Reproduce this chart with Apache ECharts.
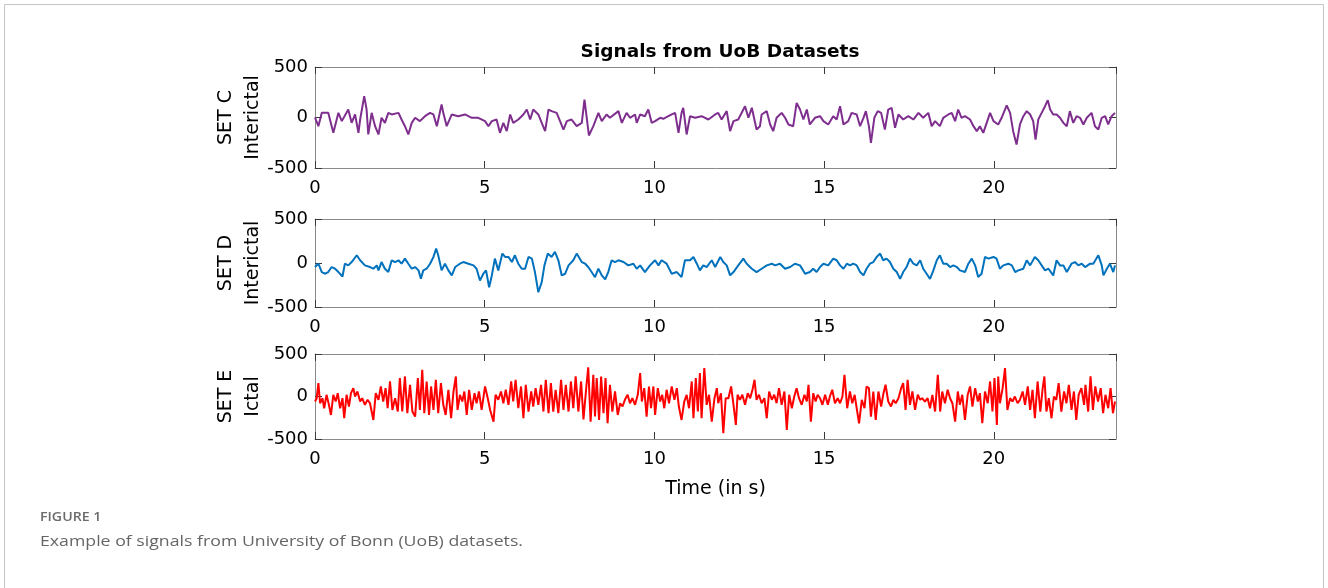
<!DOCTYPE html>
<html>
<head>
<meta charset="utf-8">
<script src="https://cdn.jsdelivr.net/npm/echarts@6/dist/echarts.min.js"></script>
<style>
  html, body { margin: 0; padding: 0; background: #fff; }
  #chart { width: 1328px; height: 588px; }
</style>
</head>
<body>
<div id="chart"></div>
<script>
// Axis ticks (seconds / microvolts)
const timeTicks = [0, 5, 10, 15, 20];
const timeMax = 23.6;
const ampTicks = [-500, 0, 500];

// Panel labels
const panelNames = ['SET C\nInterictal', 'SET D\nInterictal', 'SET E\nIctal'];

// EEG traces as [time (s), amplitude] pairs
const setC = [[0,0],[0.10,-86],[0.20,46],[0.39,46],[0.54,-152],[0.69,46],[0.79,-36],[0.98,79],[1.08,-53],[1.18,30],[1.28,-152],[1.33,-20],[1.45,211],[1.52,79],[1.57,-168],[1.67,46],[1.77,-86],[1.87,-168],[1.96,-3],[2.06,-53],[2.16,46],[2.26,30],[2.46,46],[2.55,-20],[2.65,-86],[2.75,-168],[2.85,-53],[2.95,-3],[3.09,-36],[3.24,13],[3.39,46],[3.49,30],[3.59,-86],[3.73,129],[3.78,46],[3.88,-86],[4.03,30],[4.22,13],[4.42,30],[4.62,-3],[4.81,-3],[5.01,-36],[5.11,-86],[5.21,-36],[5.35,-20],[5.45,-152],[5.55,-53],[5.65,-135],[5.75,30],[5.84,-53],[5.99,-20],[6.14,30],[6.24,79],[6.34,-20],[6.43,79],[6.58,30],[6.68,-53],[6.78,-135],[6.88,79],[6.97,63],[7.12,46],[7.22,-36],[7.32,-119],[7.42,-36],[7.56,-20],[7.71,-86],[7.86,-53],[7.94,178],[8.07,-178],[8.20,-86],[8.35,46],[8.45,-36],[8.59,30],[8.69,-3],[8.94,63],[9.04,-53],[9.18,46],[9.28,-3],[9.43,30],[9.48,-53],[9.58,30],[9.72,13],[9.82,79],[9.92,-53],[10.02,-36],[10.17,-3],[10.26,-13],[10.41,13],[10.51,30],[10.61,46],[10.71,-152],[10.80,46],[10.85,96],[10.95,-168],[11.05,13],[11.20,-3],[11.39,13],[11.59,-20],[11.79,30],[11.88,46],[11.98,-20],[12.13,63],[12.23,-135],[12.33,-36],[12.47,-20],[12.67,112],[12.77,-3],[12.87,96],[13.01,-119],[13.11,-86],[13.16,30],[13.31,63],[13.41,-69],[13.50,-135],[13.60,-3],[13.75,46],[13.85,-3],[13.95,-69],[14.09,-86],[14.19,145],[14.29,79],[14.39,-20],[14.49,79],[14.58,-69],[14.73,-3],[14.88,13],[14.98,-36],[15.12,-69],[15.27,13],[15.37,-20],[15.47,112],[15.57,-69],[15.71,-36],[15.81,46],[15.96,30],[16.06,-86],[16.16,-3],[16.23,63],[16.32,-86],[16.38,-251],[16.48,-3],[16.58,63],[16.68,46],[16.79,-119],[16.89,79],[16.99,96],[17.09,-102],[17.19,30],[17.33,-20],[17.48,13],[17.63,-20],[17.78,46],[17.92,-3],[18.07,46],[18.17,-86],[18.27,-36],[18.41,-86],[18.51,-3],[18.66,30],[18.76,46],[18.86,-36],[18.95,79],[19.05,-3],[19.15,13],[19.30,-20],[19.40,-86],[19.50,-135],[19.59,-86],[19.69,-152],[19.79,-53],[19.89,46],[19.99,-36],[20.13,-69],[20.23,-3],[20.38,119],[20.48,46],[20.57,-135],[20.67,-267],[20.77,-69],[20.87,13],[20.97,63],[21.07,30],[21.16,-36],[21.23,-218],[21.31,-20],[21.41,46],[21.51,112],[21.59,172],[21.66,79],[21.75,30],[21.85,30],[21.95,-3],[22.05,-53],[22.15,-86],[22.24,63],[22.34,-53],[22.44,13],[22.54,-3],[22.64,-69],[22.74,-3],[22.88,46],[22.98,-86],[23.08,-119],[23.18,-3],[23.28,13],[23.37,-69],[23.47,13],[23.57,46]];

const setD = [[0,-46],[0.10,-8],[0.20,-103],[0.29,-122],[0.39,-103],[0.49,-46],[0.59,-65],[0.69,-103],[0.81,-153],[0.88,-8],[0.98,-27],[1.08,11],[1.23,88],[1.33,31],[1.47,-27],[1.62,-46],[1.72,-65],[1.82,-27],[1.87,-84],[1.96,11],[2.06,-65],[2.16,-103],[2.26,31],[2.36,11],[2.46,31],[2.55,-8],[2.65,50],[2.75,-8],[2.85,-65],[2.95,-46],[3.05,-84],[3.12,-180],[3.19,-84],[3.29,-65],[3.39,-8],[3.49,69],[3.57,164],[3.63,88],[3.73,-84],[3.83,-8],[3.93,-84],[4.03,-141],[4.13,-46],[4.27,-8],[4.37,11],[4.52,-8],[4.67,-27],[4.76,-65],[4.86,-199],[4.96,-122],[5.04,-84],[5.13,-275],[5.21,-141],[5.30,50],[5.40,-84],[5.52,107],[5.60,69],[5.70,69],[5.80,11],[5.89,88],[5.99,-8],[6.09,-65],[6.19,-65],[6.29,69],[6.39,50],[6.48,-103],[6.58,-332],[6.68,-218],[6.76,-27],[6.86,107],[6.97,69],[7.07,126],[7.17,31],[7.27,-141],[7.37,-122],[7.47,-27],[7.61,31],[7.71,107],[7.86,11],[7.96,-8],[8.05,-46],[8.15,-103],[8.25,-160],[8.35,-65],[8.45,-141],[8.55,-187],[8.64,-103],[8.74,31],[8.84,11],[8.94,31],[9.09,11],[9.23,-27],[9.38,-8],[9.48,-65],[9.58,-27],[9.72,-103],[9.87,-27],[10.02,31],[10.12,-27],[10.21,31],[10.36,-8],[10.51,-122],[10.66,-103],[10.80,-160],[10.90,31],[11.05,31],[11.15,69],[11.25,-8],[11.34,-84],[11.44,-27],[11.54,-46],[11.69,31],[11.79,-46],[11.94,69],[12.03,11],[12.13,-27],[12.23,-141],[12.33,-103],[12.47,-27],[12.62,50],[12.72,-8],[12.87,-65],[13.01,-103],[13.16,-65],[13.31,-27],[13.46,-8],[13.55,-27],[13.70,-8],[13.85,-65],[14.00,-46],[14.14,-8],[14.29,-27],[14.44,-122],[14.58,-103],[14.68,-65],[14.78,-103],[14.88,-46],[14.98,-8],[15.12,-27],[15.27,50],[15.37,31],[15.47,-27],[15.57,-65],[15.67,-8],[15.76,-27],[15.86,-8],[15.96,-27],[16.06,-103],[16.16,-141],[16.25,-65],[16.35,-8],[16.45,11],[16.55,69],[16.65,107],[16.74,31],[16.84,50],[16.94,11],[17.04,-65],[17.14,-103],[17.24,-180],[17.33,-103],[17.43,-46],[17.53,50],[17.63,-8],[17.73,-27],[17.83,31],[17.92,-65],[18.02,-122],[18.12,-180],[18.22,-84],[18.32,31],[18.41,88],[18.51,-8],[18.61,-8],[18.71,-46],[18.81,-27],[18.91,-46],[19.00,-84],[19.15,-103],[19.25,-8],[19.35,50],[19.45,-27],[19.54,-160],[19.64,-122],[19.74,69],[19.84,50],[19.99,69],[20.08,50],[20.18,-65],[20.28,-27],[20.43,-8],[20.53,-27],[20.63,-103],[20.72,-84],[20.87,-65],[20.97,31],[21.07,-27],[21.21,69],[21.31,31],[21.41,-27],[21.51,-84],[21.61,-65],[21.75,-141],[21.85,31],[21.95,-27],[22.05,-27],[22.15,-103],[22.29,-8],[22.39,11],[22.49,-27],[22.59,-8],[22.69,-46],[22.84,-8],[22.93,-8],[23.08,88],[23.18,-27],[23.23,-141],[23.33,-65],[23.42,-8],[23.52,-103],[23.57,-27]];

const setE = [[0,-59],[0.05,-20],[0.10,158],[0.15,-79],[0.22,-20],[0.27,-138],[0.34,20],[0.41,-98],[0.47,-217],[0.54,20],[0.61,-59],[0.67,39],[0.74,-138],[0.81,-20],[0.86,-256],[0.93,20],[1.00,-118],[1.06,39],[1.13,98],[1.18,0],[1.25,59],[1.33,-59],[1.39,-20],[1.47,-98],[1.55,-39],[1.62,-79],[1.72,-276],[1.79,39],[1.87,-39],[1.94,118],[2.01,-59],[2.08,98],[2.14,-138],[2.21,177],[2.28,-158],[2.36,-20],[2.44,-177],[2.50,217],[2.57,-177],[2.65,236],[2.72,-197],[2.80,138],[2.87,-177],[2.95,-236],[3.03,217],[3.09,-158],[3.16,315],[3.22,-197],[3.29,177],[3.36,-217],[3.42,118],[3.49,-158],[3.56,197],[3.63,-197],[3.71,158],[3.78,-98],[3.85,-217],[3.93,79],[4.01,-256],[4.08,59],[4.15,236],[4.20,-158],[4.27,20],[4.34,-59],[4.40,59],[4.47,-217],[4.54,79],[4.62,-158],[4.70,39],[4.76,-79],[4.83,59],[4.91,-158],[5.01,118],[5.09,-20],[5.16,-158],[5.26,-296],[5.32,20],[5.40,-39],[5.48,59],[5.55,-79],[5.62,79],[5.70,-98],[5.78,177],[5.84,-59],[5.91,197],[5.99,-138],[6.07,118],[6.14,-256],[6.21,138],[6.29,-177],[6.37,59],[6.43,-118],[6.50,98],[6.58,-98],[6.66,138],[6.73,-177],[6.80,197],[6.88,-197],[6.95,158],[7.02,-177],[7.09,79],[7.17,-197],[7.25,197],[7.32,-158],[7.39,138],[7.47,-177],[7.54,177],[7.61,-138],[7.68,236],[7.76,-177],[7.84,177],[7.91,-270],[8.00,138],[8.05,343],[8.12,-296],[8.20,256],[8.25,-236],[8.30,217],[8.37,-276],[8.43,236],[8.50,-197],[8.56,217],[8.62,-315],[8.69,138],[8.76,-177],[8.84,59],[8.92,-217],[8.99,-79],[9.06,-118],[9.13,-39],[9.21,20],[9.28,-79],[9.35,-20],[9.43,-98],[9.51,20],[9.58,276],[9.63,-59],[9.70,98],[9.77,-236],[9.84,118],[9.90,-138],[9.97,118],[10.02,-217],[10.10,98],[10.17,-59],[10.23,20],[10.29,-138],[10.36,79],[10.43,-79],[10.51,118],[10.59,-39],[10.66,98],[10.72,-118],[10.80,-276],[10.88,-59],[10.95,20],[11.02,-138],[11.10,177],[11.15,-256],[11.22,217],[11.28,-177],[11.34,276],[11.39,-256],[11.47,335],[11.54,-98],[11.61,20],[11.69,-296],[11.77,-20],[11.84,98],[11.88,-79],[11.96,39],[12.03,-433],[12.10,-20],[12.18,-20],[12.26,118],[12.33,-98],[12.40,-335],[12.45,20],[12.52,-39],[12.59,20],[12.67,-98],[12.75,39],[12.82,-20],[12.89,79],[12.95,197],[13.01,-39],[13.08,20],[13.16,-79],[13.24,-20],[13.31,-256],[13.38,59],[13.46,-39],[13.53,20],[13.60,-79],[13.67,98],[13.75,-98],[13.83,59],[13.90,-394],[13.97,20],[14.05,-138],[14.12,0],[14.19,98],[14.26,-20],[14.34,-98],[14.42,20],[14.49,-59],[14.54,138],[14.61,-296],[14.68,39],[14.75,-59],[14.81,20],[14.88,-20],[14.95,-98],[15.03,20],[15.11,-98],[15.17,0],[15.24,79],[15.32,-79],[15.40,-20],[15.47,-79],[15.54,0],[15.60,256],[15.68,-138],[15.76,59],[15.83,-79],[15.90,20],[15.96,-138],[16.03,-315],[16.11,-39],[16.19,-138],[16.25,118],[16.32,98],[16.38,-236],[16.45,59],[16.52,-276],[16.60,59],[16.68,-118],[16.75,39],[16.81,138],[16.89,-59],[16.97,-118],[17.04,-39],[17.11,-79],[17.19,-20],[17.27,98],[17.33,158],[17.40,-158],[17.46,197],[17.53,-98],[17.60,59],[17.68,-158],[17.76,20],[17.83,-39],[17.89,-20],[17.97,-59],[18.05,-20],[18.12,-138],[18.19,20],[18.27,-177],[18.35,256],[18.42,-177],[18.48,59],[18.56,-79],[18.64,79],[18.71,-20],[18.78,-79],[18.86,-296],[18.94,59],[19.00,-98],[19.07,20],[19.15,-276],[19.23,20],[19.30,118],[19.37,-118],[19.45,98],[19.53,-59],[19.59,39],[19.66,-315],[19.74,59],[19.82,-79],[19.89,177],[19.96,-177],[20.02,217],[20.09,-335],[20.13,236],[20.18,-79],[20.26,98],[20.33,335],[20.40,-158],[20.48,-20],[20.55,-59],[20.62,0],[20.70,-79],[20.77,-39],[20.85,59],[20.92,-98],[21.00,118],[21.07,-158],[21.14,79],[21.21,-256],[21.29,177],[21.37,-177],[21.44,98],[21.49,236],[21.55,-177],[21.62,-20],[21.70,-256],[21.77,0],[21.84,-39],[21.91,158],[21.99,-177],[22.07,59],[22.14,-79],[22.21,138],[22.29,-158],[22.36,59],[22.43,-276],[22.50,20],[22.58,98],[22.66,-98],[22.70,138],[22.78,-177],[22.85,236],[22.92,-158],[22.99,118],[23.07,-59],[23.15,98],[23.22,-197],[23.29,20],[23.37,-138],[23.44,98],[23.51,-197],[23.57,-59]];

const traces = [setC, setD, setE];
const traceColors = ['#7E2F8E', '#0072BD', '#FF0000'];

// Layout of the three stacked panels
const panelBoxes = [
  { top: 67, height: 101 },
  { top: 219, height: 88 },
  { top: 354, height: 85 }
];
const plotLeft = 315, plotRight = 212;
const panelNameX = 240;

const font = 'DejaVu Sans';
const frameColor = '#8a8a8a';
const tickColor = '#3a3a3a';

const grids = [], xAxes = [], yAxes = [], series = [], panelLabels = [];
panelBoxes.forEach((box, i) => {
  grids.push({ left: plotLeft, right: plotRight, top: box.top, height: box.height, containLabel: false });
  const tInterval = timeTicks[1] - timeTicks[0];
  const aInterval = ampTicks[1] - ampTicks[0];
  const common = {
    gridIndex: i, type: 'value',
    axisLine: { show: true, onZero: false, lineStyle: { color: frameColor, width: 1 } },
    splitLine: { show: false }
  };
  // bottom time axis (labelled)
  xAxes.push(Object.assign({}, common, {
    position: 'bottom', min: timeTicks[0], max: timeMax, interval: tInterval,
    axisTick: { inside: true, length: 7, lineStyle: { color: tickColor } },
    axisLabel: { show: true, margin: 11, color: '#000', fontFamily: font, fontSize: 18, showMaxLabel: false },
    name: i === panelBoxes.length - 1 ? 'Time (in s)' : '',
    nameLocation: 'middle', nameGap: 41,
    nameTextStyle: { color: '#000', fontFamily: font, fontSize: 19 }
  }));
  // top time axis (ticks only)
  xAxes.push(Object.assign({}, common, {
    position: 'top', min: timeTicks[0], max: timeMax, interval: tInterval,
    axisTick: { inside: true, length: 7, lineStyle: { color: tickColor } },
    axisLabel: { show: false }
  }));
  // left amplitude axis (labelled)
  yAxes.push(Object.assign({}, common, {
    position: 'left', min: ampTicks[0], max: ampTicks[ampTicks.length - 1], interval: aInterval,
    axisTick: { inside: true, length: 7, lineStyle: { color: tickColor } },
    axisLabel: { show: true, margin: 7, color: '#000', fontFamily: font, fontSize: 18 }
  }));
  // right amplitude axis (ticks only)
  yAxes.push(Object.assign({}, common, {
    position: 'right', min: ampTicks[0], max: ampTicks[ampTicks.length - 1], interval: aInterval,
    axisTick: { inside: true, length: 7, lineStyle: { color: tickColor } },
    axisLabel: { show: false }
  }));
  series.push({
    type: 'line', xAxisIndex: 2 * i, yAxisIndex: 2 * i,
    data: traces[i], showSymbol: false, symbol: 'none', smooth: false,
    lineStyle: { color: traceColors[i], width: 2 },
    silent: true, animation: false
  });
  // rotated two-line panel label, centred on the panel
  panelLabels.push({
    type: 'text', x: panelNameX, y: box.top + box.height / 2, rotation: Math.PI / 2,
    style: {
      text: panelNames[i], fill: '#000', font: '19px "DejaVu Sans"',
      lineHeight: 27, align: 'center', verticalAlign: 'middle'
    },
    silent: true
  });
});

const chart = echarts.init(document.getElementById('chart'), null, { renderer: 'canvas' });
chart.setOption({
  backgroundColor: '#fff',
  animation: false,
  title: {
    text: 'Signals from UoB Datasets', left: 715, top: 38, textAlign: 'center',
    textStyle: { fontFamily: font, fontSize: 18.5, fontWeight: 'bold', color: '#000' }
  },
  grid: grids, xAxis: xAxes, yAxis: yAxes, series: series,
  graphic: [
    { type: 'rect', shape: { x: 4.5, y: 4.5, width: 1319, height: 620 },
      style: { fill: 'none', stroke: '#c4c4c4', lineWidth: 1 }, silent: true },
    { type: 'text', x: 40, y: 512, scaleX: 1.18,
      style: { text: 'FIGURE 1', fill: '#6b6b6b', font: '600 12px "Open Sans"' } },
    { type: 'text', x: 40, y: 534, scaleX: 1.18,
      style: { text: 'Example of signals from University of Bonn (UoB) datasets.', fill: '#666', font: '15px "Open Sans"' } }
  ].concat(panelLabels)
});
</script>
</body>
</html>
